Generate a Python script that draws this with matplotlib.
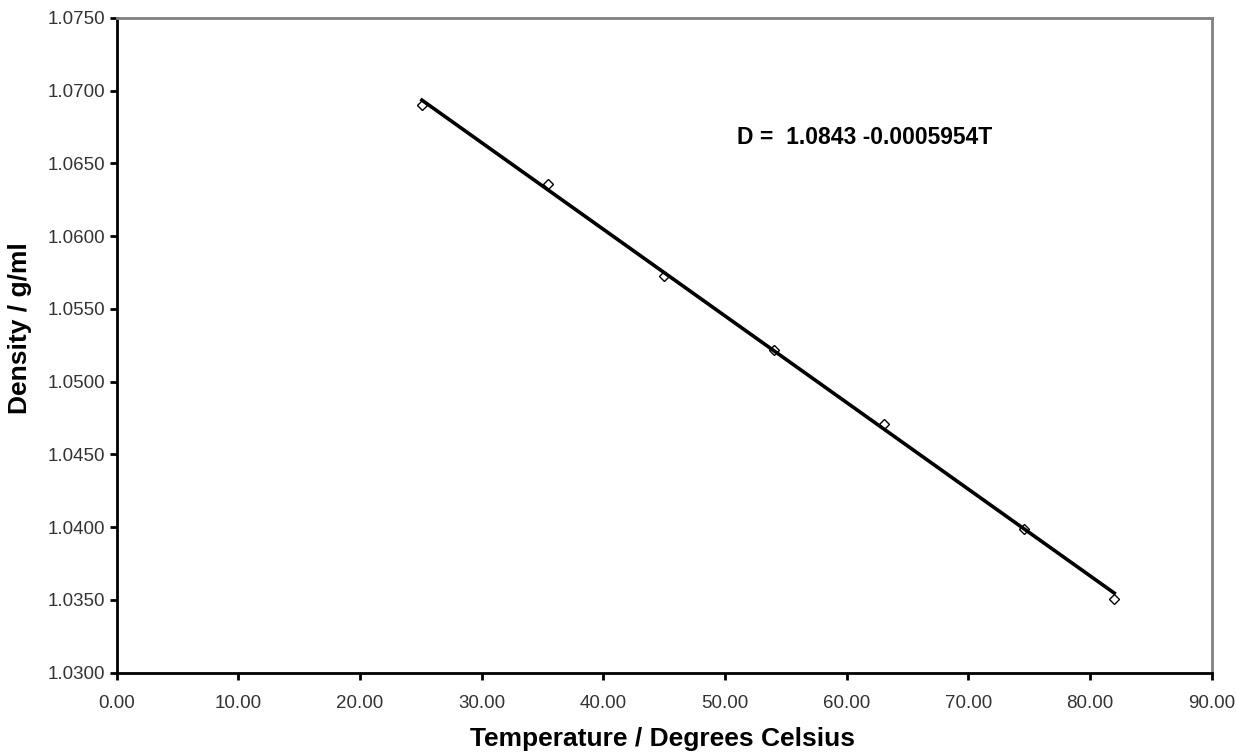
import numpy as np
import matplotlib
matplotlib.use("Agg")
from matplotlib import pyplot as plt
from matplotlib.ticker import FormatStrFormatter

# measured data (temperature in deg C, density in g/ml)
temperature = [25.1, 35.5, 45.0, 54.0, 63.1, 74.6, 82.0]
density = [1.0690, 1.0636, 1.0573, 1.0522, 1.0471, 1.0399, 1.0351]

# linear fit shown on the chart
intercept = 1.0843
slope = -0.0005954

plt.rcParams['font.family'] = ['Liberation Sans', 'DejaVu Sans']

fig = plt.figure(figsize=(12.36, 7.53), dpi=100)
ax = fig.add_axes([0.0943, 0.1066, 0.8859, 0.8695])

fit_x = np.array([min(temperature), max(temperature)])
fit_y = intercept + slope * fit_x

ax.plot(temperature, density, linestyle='none', marker='D', markersize=5,
        markerfacecolor='white', markeredgecolor='black', markeredgewidth=1, zorder=2)
ax.plot(fit_x, fit_y, color='black', linewidth=2.6, zorder=3)

ax.set_xlim(0, 90)
ax.set_ylim(1.03, 1.075)
ax.set_xticks(np.arange(0, 91, 10))
ax.set_yticks(np.arange(1.03, 1.0751, 0.005))
ax.xaxis.set_major_formatter(FormatStrFormatter('%.2f'))
ax.yaxis.set_major_formatter(FormatStrFormatter('%.4f'))

for side in ['left', 'bottom']:
    ax.spines[side].set_color('black')
    ax.spines[side].set_linewidth(2)
for side in ['top', 'right']:
    ax.spines[side].set_color('#808080')
    ax.spines[side].set_linewidth(2)

ax.tick_params(direction='out', length=5, width=2, colors='black',
               labelcolor='#333333', labelsize=13.5)
ax.tick_params(axis='x', pad=11)
ax.tick_params(axis='y', pad=3)

ax.set_xlabel('Temperature / Degrees Celsius', fontsize=19, fontweight='bold')
ax.set_ylabel('Density / g/ml', fontsize=19, fontweight='bold')
ax.xaxis.set_label_coords(0.4986, -0.083)
ax.yaxis.set_label_coords(-0.077, 0.5265)

ax.text(51.0, 1.0668, 'D =  1.0843 -0.0005954T', fontsize=16.5, fontweight='bold',
        va='center', ha='left')

fig.savefig('out.png', dpi=100)
